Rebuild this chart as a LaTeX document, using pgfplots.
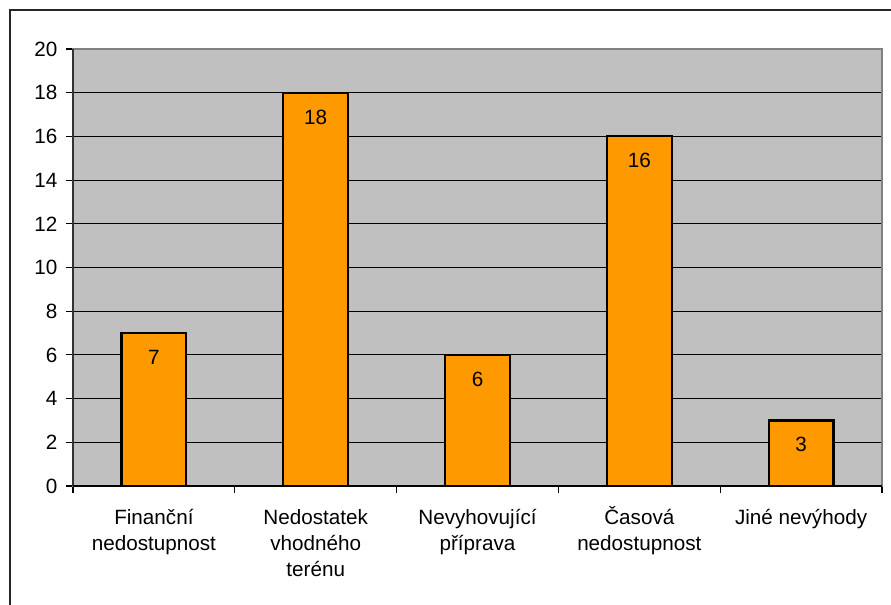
\documentclass[border=0pt]{standalone}
\usepackage{pgfplots}
\pgfplotsset{compat=1.18}
\usepackage{fontspec}
\setmainfont{Liberation Sans}
\definecolor{barorange}{HTML}{FF9900}
\definecolor{plotgray}{HTML}{C0C0C0}
% common first-line height for the category labels
\newcommand\lst{\vphantom{Čí}}

\begin{document}
\begin{tikzpicture}[x=0.75pt,y=0.75pt]
\useasboundingbox (0,0) rectangle (891,605);
% outer chart frame
\draw[line width=1pt, black!85] (10,-20) -- (10,595) -- (920,595);
\begin{axis}[
  at={(54.75pt,89.25pt)}, anchor=south west,
  scale only axis, width=606.75pt, height=327.75pt,
  ymin=0, ymax=20, ytick={0,2,...,20},
  xmin=-0.5, xmax=4.5,
  xtick={-0.5,0.5,1.5,2.5,3.5,4.5},
  x tick label as interval,
  xticklabels={{\lst Finanční\\nedostupnost},{\lst Nedostatek\\vhodného\\terénu},{\lst Nevyhovující\\příprava},{\lst Časová\\nedostupnost},{\lst Jiné nevýhody}},
  xtick pos=bottom, ytick pos=left,
  tick align=outside, major tick length=5.25pt,
  tick style={black, line width=0.8pt},
  ymajorgrids, grid style={black, line width=0.6pt},
  axis line style={black!50, line width=1pt},
  axis background/.style={fill=plotgray},
  /pgf/number format/assume math mode=true,
  ticklabel style={font=\fontsize{15.5}{19.5}\selectfont},
  xticklabel style={align=center, yshift=-6.5pt},
  yticklabel style={xshift=-3pt},
  ybar, bar width=0.4,
  nodes near coords,
  every node near coord/.append style={anchor=north, yshift=-12pt, inner sep=0pt, font=\fontsize{15.5}{19.5}\selectfont, black},
  clip=false,
]
\addplot[fill=barorange, draw=black, line width=1.6pt] coordinates {(0,7) (1,18) (2,6) (3,16) (4,3)};
\draw[black!80, line width=1pt] (rel axis cs:0,0) -- (rel axis cs:0,1);
\draw[black, line width=1.4pt] (rel axis cs:0,0) -- (rel axis cs:1,0);
\end{axis}
\end{tikzpicture}
\end{document}
